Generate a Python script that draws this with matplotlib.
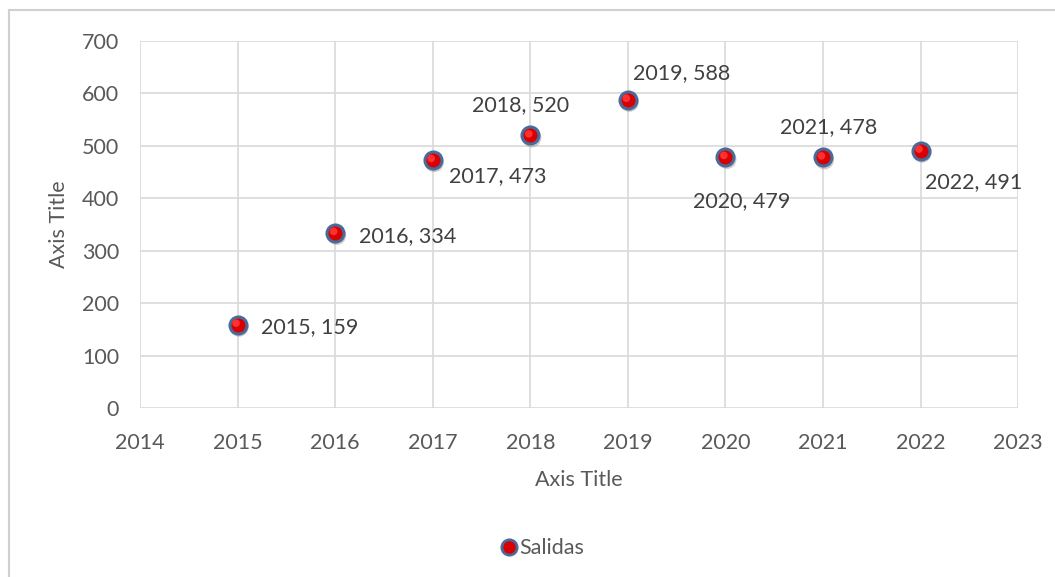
import matplotlib
matplotlib.use("Agg")
import matplotlib.pyplot as plt
from matplotlib.lines import Line2D
import matplotlib.transforms as mtrans

years = [2015, 2016, 2017, 2018, 2019, 2020, 2021, 2022]
salidas = [159, 334, 473, 520, 588, 479, 478, 491]
series_name = "Salidas"
x_ticks = list(range(2014, 2024))
y_ticks = list(range(0, 701, 100))

# label offsets in points (dx, dy, ha)
label_pos = [(17, -2, "left"), (17, -2, "left"),
             (11.5, -11.5, "left"), (-7, 22, "center"),
             (4, 19, "left"), (12, -32, "center"),
             (4, 22, "center"), (3, -23, "left")]

plt.rcParams["font.family"] = ["Lato", "DejaVu Sans"]
txt = "#595959"
FS = 15.5
fig = plt.figure(figsize=(10.55, 5.77), dpi=100)
ax = fig.add_axes([0.1327, 0.2929, 0.8323, 0.636])

ax.set_xlim(2014, 2023)
ax.set_ylim(0, 700)
ax.set_xticks(x_ticks)
ax.set_yticks(y_ticks)
ax.grid(True, color="#d9d9d9", linewidth=1.2)
ax.set_axisbelow(True)
for s in ax.spines.values():
    s.set_visible(False)
ax.tick_params(length=0, labelsize=FS, colors=txt)
ax.tick_params(axis="x", pad=18)
ax.tick_params(axis="y", pad=15)

# shadow
ax.scatter(years, salidas, s=190, color="#9a9a9a", alpha=0.5, zorder=3,
           edgecolors="none",
           transform=ax.transData + mtrans.ScaledTranslation(1.5/100, -2.5/100, fig.dpi_scale_trans))
ax.scatter(years, salidas, s=150, color="#d80000", edgecolors="#4a6a9a",
           linewidths=2.2, zorder=4, label=series_name)
ax.scatter(years, salidas, s=30, color="#ff3030", edgecolors="none", zorder=5,
           transform=ax.transData + mtrans.ScaledTranslation(-1.5/100, 1.5/100, fig.dpi_scale_trans))

for x, y, (dx, dy, ha) in zip(years, salidas, label_pos):
    ax.annotate(f"{x}, {y}", (x, y), xytext=(dx, dy), textcoords="offset points",
                ha=ha, va="center", fontsize=FS, color="#404040")

ax.set_xlabel("Axis Title", fontsize=FS, color=txt, labelpad=12)
ax.set_ylabel("Axis Title", fontsize=FS, color=txt, labelpad=9)

handle = Line2D([], [], marker="o", linestyle="none", markersize=11,
                markerfacecolor="#d80000", markeredgecolor="#4a6a9a", markeredgewidth=2)
fig.legend([handle], [series_name], loc="center", bbox_to_anchor=(0.514, 0.05),
           frameon=False, fontsize=FS, labelcolor=txt, handletextpad=0.05,
           handlelength=0.8)

fig.add_artist(Line2D([8.5/1055, 8.5/1055], [0, 1 - 10/577], color="#d0d0d0", linewidth=1.5,
                      transform=fig.transFigure))
fig.add_artist(Line2D([8.5/1055, 1], [1 - 10/577, 1 - 10/577], color="#d0d0d0", linewidth=1.5,
                      transform=fig.transFigure))

fig.savefig("out.png", dpi=100)
